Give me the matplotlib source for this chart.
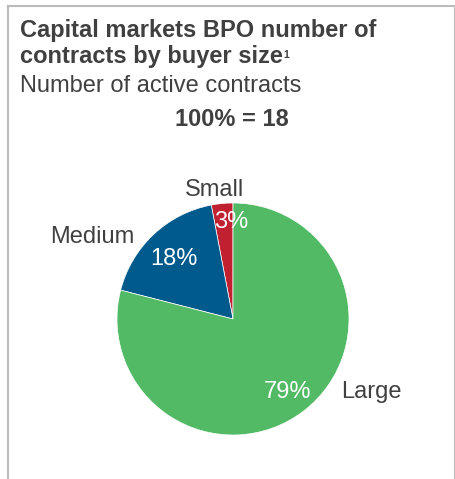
import matplotlib.pyplot as plt
from matplotlib.lines import Line2D

plt.rcParams["font.family"] = ["Liberation Sans", "DejaVu Sans"]

labels = ["Small", "Medium", "Large"]
shares = [3, 18, 79]
colors = ["#C0202F", "#005A8C", "#52BA65"]
total_label = "100% = 18"

TXT = "#404040"
W, H = 456, 479
FS = 17

fig = plt.figure(figsize=(W / 100, H / 100), dpi=100)


def fx(x):
    return x / W


def fy(y):
    return 1 - y / H


# frame (top, left, right)
for xs, ys in [([8, 455], [5.5, 5.5]), ([8.5, 8.5], [479, 5.5]), ([455, 455], [479, 5.5])]:
    fig.add_artist(Line2D([fx(v) for v in xs], [fy(v) for v in ys], color="#bbbbbb", lw=1.5,
                          transform=fig.transFigure))

fig.text(fx(20), fy(37), "Capital markets BPO number of", fontsize=FS, fontweight="bold", color=TXT, va="baseline")
line2 = fig.text(fx(20), fy(63), "contracts by buyer size", fontsize=FS, fontweight="bold", color=TXT, va="baseline")
fig.text(fx(20), fy(92), "Number of active contracts", fontsize=FS, color=TXT, va="baseline")
fig.text(fx(232), fy(126), total_label, fontsize=FS, fontweight="bold", color=TXT, va="baseline", ha="center")

fig.canvas.draw()
bb = line2.get_window_extent()
fig.text(fx(bb.x1 + 0.5), fy(58.5), "1", fontsize=7.5, fontweight="bold", color=TXT, va="baseline")

r_px = 116
cx, cy = 233, 319
ax = fig.add_axes([fx(cx - r_px), fy(cy + r_px), 2 * r_px / W, 2 * r_px / H])
ax.pie(shares, colors=colors, startangle=90, counterclock=True,
       wedgeprops=dict(linewidth=0.5, edgecolor="white"))
ax.set_xlim(-1, 1)
ax.set_ylim(-1, 1)
ax.set_aspect("auto")
ax.axis("off")

pct_pos = [(231, 228), (174, 265), (288, 398)]
name_pos = [(215, 196), (92, 243), (371, 398)]
for i in range(len(labels)):
    px, py = pct_pos[i]
    fig.text(fx(px), fy(py), f"{shares[i]}%", fontsize=FS, color="white", ha="center", va="baseline")
    nx, ny = name_pos[i]
    fig.text(fx(nx), fy(ny), labels[i], fontsize=FS, color=TXT, ha="center", va="baseline")

fig.savefig("out.png", dpi=100)
